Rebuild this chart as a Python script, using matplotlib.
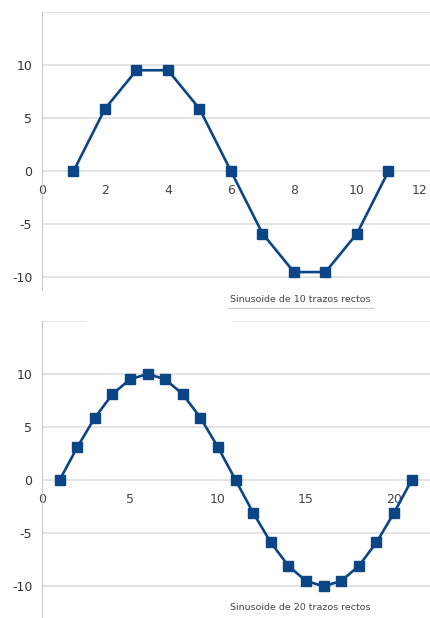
import matplotlib.pyplot as plt
from matplotlib.lines import Line2D
from matplotlib.patches import Rectangle

# datos
x10 = [1, 2, 3, 4, 5, 6, 7, 8, 9, 10, 11]
y10 = [0, 5.88, 9.51, 9.51, 5.88, 0, -5.88, -9.51, -9.51, -5.88, 0]

x20 = list(range(1, 22))
y20 = [0, 3.09, 5.88, 8.09, 9.51, 10, 9.51, 8.09, 5.88, 3.09, 0,
       -3.09, -5.88, -8.09, -9.51, -10, -9.51, -8.09, -5.88, -3.09, 0]

xticks10 = [0, 2, 4, 6, 8, 10, 12]
xticks20 = [0, 5, 10, 15, 20]
yticks = [-10, -5, 0, 5, 10]

W, H = 431, 618
azul = '#0b4586'
gris = '#dedede'

fig = plt.figure(figsize=(W / 100, H / 100), dpi=100)


def ejes(px_top, px_bot, xmax, ymin):
    ax = fig.add_axes([42 / W, 1 - px_bot / H, (W - 42) / W, (px_bot - px_top) / H])
    ax.set_xlim(0, xmax)
    ax.set_ylim(ymin, 15)
    for s in ['top', 'right']:
        ax.spines[s].set_visible(False)
    ax.spines['left'].set_color('#c8c8c8')
    ax.spines['bottom'].set_position(('data', 0))
    ax.spines['bottom'].set_visible(False)
    ax.set_yticks(yticks + [15])
    ax.set_yticklabels([str(v) for v in yticks] + [''])
    ax.yaxis.grid(True, color=gris, linewidth=1.2)
    ax.set_axisbelow(True)
    ax.tick_params(axis='y', length=0, pad=7, labelsize=9, labelcolor='#333333')
    ax.tick_params(axis='x', length=0, pad=9, labelsize=9, labelcolor='#444444')
    return ax


ax1 = ejes(12, 290, 12.35, -11.2)
ax1.set_xticks(xticks10)
ax1.plot(x10, y10, color=azul, linewidth=1.9, marker='s', markersize=7, zorder=3)

ax2 = ejes(321, 618, 22.1, -13.0)
ax2.set_xticks(xticks20)
ax2.plot(x20, y20, color=azul, linewidth=1.9, marker='s', markersize=7, zorder=3)

fig.text(230 / W, 1 - 299 / H, 'Sinusoide de 10 trazos rectos', fontsize=6.8,
         color='#444444', va='center', ha='left')
fig.add_artist(Line2D([228 / W, 373 / W], [1 - 308 / H, 1 - 308 / H],
                      color='#cccccc', linewidth=1))
fig.text(230 / W, 1 - 607 / H, 'Sinusoide de 20 trazos rectos', fontsize=6.8,
         color='#444444', va='center', ha='left')

# hueco blanco en la linea superior del segundo grafico
fig.add_artist(Rectangle((86 / W, 1 - 326 / H), 146 / W, 10 / H,
                         facecolor='white', edgecolor='none', zorder=10))

fig.savefig('out.png', dpi=100)
